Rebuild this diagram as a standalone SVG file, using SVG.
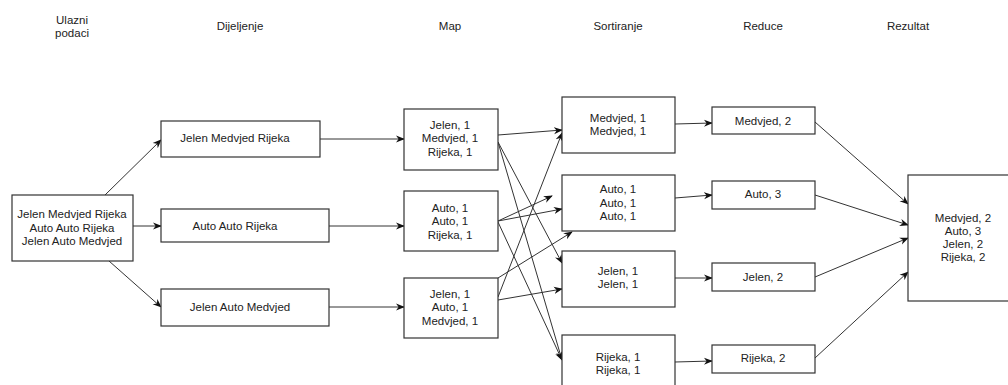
<svg xmlns="http://www.w3.org/2000/svg" width="1008" height="385" viewBox="0 0 1008 385">
<style>
.box{fill:#fff;stroke:#333;stroke-width:1.2}
text{font-family:"Liberation Sans",Arial,sans-serif;font-size:11.5px;fill:#222;text-anchor:middle}
.c line{stroke:#333;stroke-width:1;fill:none;marker-end:url(#ah)}
</style>
<defs>
<marker id="ah" viewBox="0 0 10 10" refX="9" refY="5" markerWidth="9" markerHeight="9" markerUnits="userSpaceOnUse" orient="auto">
<path d="M0,1 L10,5 L0,9 L3,5 Z" fill="#111"/>
</marker>
</defs>
<rect width="1008" height="385" fill="#fff"/>
<g id="headers">
<text x="72" y="24">Ulazni</text>
<text x="72" y="37">podaci</text>
<text x="240" y="30">Dijeljenje</text>
<text x="450" y="30">Map</text>
<text x="618" y="30">Sortiranje</text>
<text x="763" y="30">Reduce</text>
<text x="908" y="30">Rezultat</text>
</g>
<g class="c" id="connectors">
<line x1="105" y1="195" x2="161" y2="140"/>
<line x1="133" y1="226" x2="161" y2="226"/>
<line x1="109" y1="261" x2="161" y2="307"/>
<line x1="320" y1="139" x2="404" y2="139"/>
<line x1="329" y1="226" x2="404" y2="226"/>
<line x1="329" y1="307" x2="404" y2="307"/>
<line x1="498" y1="135" x2="562" y2="130"/>
<line x1="498" y1="142" x2="562" y2="263"/>
<line x1="498" y1="142" x2="562" y2="360"/>
<line x1="498" y1="221" x2="552" y2="196"/>
<line x1="498" y1="221" x2="562" y2="209"/>
<line x1="498" y1="222" x2="562" y2="360"/>
<line x1="498" y1="278" x2="572" y2="232"/>
<line x1="498" y1="300" x2="562" y2="289"/>
<line x1="498" y1="297" x2="562" y2="133"/>
<line x1="675" y1="124" x2="712" y2="123"/>
<line x1="675" y1="198" x2="712" y2="195"/>
<line x1="675" y1="278" x2="712" y2="278"/>
<line x1="675" y1="362" x2="712" y2="361"/>
<line x1="815" y1="122" x2="908" y2="204"/>
<line x1="815" y1="195" x2="908" y2="225"/>
<line x1="815" y1="277" x2="908" y2="238"/>
<line x1="815" y1="358" x2="908" y2="272"/>
</g>
<g id="input">
<rect class="box" x="12" y="195" width="121" height="66"/>
<text x="72" y="218">Jelen Medvjed Rijeka</text>
<text x="72" y="232">Auto Auto Rijeka</text>
<text x="72" y="245">Jelen Auto Medvjed</text>
</g>
<g id="split1"><rect class="box" x="161" y="121" width="159" height="36"/><text x="235" y="142">Jelen Medvjed Rijeka</text></g>
<g id="split2"><rect class="box" x="161" y="209" width="168" height="33"/><text x="235" y="230">Auto Auto Rijeka</text></g>
<g id="split3"><rect class="box" x="161" y="289" width="168" height="37"/><text x="240" y="311">Jelen Auto Medvjed</text></g>
<g id="map1"><rect class="box" x="404" y="109" width="94" height="61"/>
<text x="450" y="129">Jelen, 1</text><text x="450" y="142">Medvjed, 1</text><text x="450" y="156">Rijeka, 1</text></g>
<g id="map2"><rect class="box" x="404" y="191" width="94" height="60"/>
<text x="450" y="212">Auto, 1</text><text x="450" y="225">Auto, 1</text><text x="450" y="239">Rijeka, 1</text></g>
<g id="map3"><rect class="box" x="404" y="278" width="94" height="60"/>
<text x="450" y="298">Jelen, 1</text><text x="450" y="311">Auto, 1</text><text x="450" y="325">Medvjed, 1</text></g>
<g id="sort1"><rect class="box" x="562" y="97" width="113" height="56"/>
<text x="618" y="122">Medvjed, 1</text><text x="618" y="135">Medvjed, 1</text></g>
<g id="sort2"><rect class="box" x="562" y="175" width="113" height="56"/>
<text x="618" y="193">Auto, 1</text><text x="618" y="207">Auto, 1</text><text x="618" y="220">Auto, 1</text></g>
<g id="sort3"><rect class="box" x="562" y="251" width="113" height="56"/>
<text x="618" y="275">Jelen, 1</text><text x="618" y="288">Jelen, 1</text></g>
<g id="sort4"><rect class="box" x="562" y="335" width="113" height="56"/>
<text x="618" y="361">Rijeka, 1</text><text x="618" y="374">Rijeka, 1</text></g>
<g id="reduce1"><rect class="box" x="712" y="107" width="103" height="27"/><text x="763" y="125">Medvjed, 2</text></g>
<g id="reduce2"><rect class="box" x="712" y="181" width="103" height="28"/><text x="763" y="198">Auto, 3</text></g>
<g id="reduce3"><rect class="box" x="712" y="263" width="103" height="28"/><text x="763" y="281">Jelen, 2</text></g>
<g id="reduce4"><rect class="box" x="712" y="345" width="103" height="28"/><text x="763" y="362">Rijeka, 2</text></g>
<g id="result"><rect class="box" x="908" y="175" width="112" height="126"/>
<text x="963" y="222">Medvjed, 2</text><text x="963" y="235">Auto, 3</text><text x="963" y="248">Jelen, 2</text><text x="963" y="261">Rijeka, 2</text></g>
</svg>
